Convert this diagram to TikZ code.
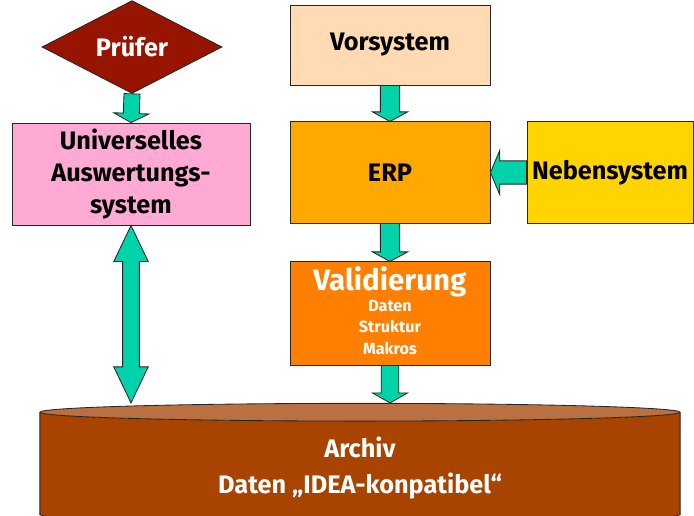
\documentclass[tikz,border=0pt]{standalone}
\usepackage{fontspec}
\setmainfont{Fira Sans}
\usepackage{tikz}
\usetikzlibrary{calc,shapes,shapes.geometric}
\definecolor{pruefred}{RGB}{150,20,0}
\definecolor{vorpeach}{RGB}{255,218,178}
\definecolor{erporange}{RGB}{255,168,0}
\definecolor{nebenyellow}{RGB}{255,212,0}
\definecolor{univpink}{RGB}{255,170,212}
\definecolor{validorange}{RGB}{255,127,0}
\definecolor{archivbody}{RGB}{168,68,0}
\definecolor{archivtop}{RGB}{186,112,64}
\definecolor{arrowgreen}{RGB}{0,210,170}
\newcommand{\smalltxt}{\fontsize{11.5}{15}\selectfont}
\tikzset{
    block/.style = {draw=black!85, line width=0.6pt, rectangle, inner sep=0pt,
        align=center, font=\bfseries\fontsize{18}{23}\selectfont},
    prism/.style = {draw=black!85, line width=0.6pt, diamond, inner sep=0pt,
        minimum width=4.5cm, minimum height=1.93cm, fill=pruefred, text=white,
        font=\bfseries\fontsize{18}{23}\selectfont},
    store/.style = {draw=black!85, line width=0.6pt, cylinder, shape border rotate=90,
        aspect=0.0625, minimum width=16cm, minimum height=3cm, inner sep=0pt,
        cylinder uses custom fill, cylinder body fill=archivbody,
        cylinder end fill=archivtop, text=white, align=center,
        font=\bfseries\fontsize{18}{25}\selectfont},
    fatarrow/.style = {draw=black!85, line width=0.6pt, fill=arrowgreen, line join=miter}
}
% block arrow: half shaft, half head, head length, from, to
\newcommand{\fatarrow}[5]{%
    \coordinate (hb) at ($(#5)!#3!(#4)$);
    \draw[fatarrow] ($(#4)!#1!90:(#5)$) -- ($(hb)!#1!90:(#5)$) -- ($(hb)!#2!90:(#5)$)
        -- (#5) -- ($(hb)!#2!-90:(#5)$) -- ($(hb)!#1!-90:(#5)$) -- ($(#4)!#1!-90:(#5)$) -- cycle;}
\newcommand{\dblarrow}[5]{%
    \coordinate (hba) at ($(#4)!#3!(#5)$);
    \coordinate (hbb) at ($(#5)!#3!(#4)$);
    \draw[fatarrow] (#4) -- ($(hba)!#2!90:(#5)$) -- ($(hba)!#1!90:(#5)$) -- ($(hbb)!#1!90:(#5)$)
        -- ($(hbb)!#2!90:(#5)$) -- (#5) -- ($(hbb)!#2!-90:(#5)$) -- ($(hbb)!#1!-90:(#5)$)
        -- ($(hba)!#1!-90:(#5)$) -- ($(hba)!#2!-90:(#5)$) -- cycle;}
\begin{document}
\begin{tikzpicture}[x=0.025cm, y=-0.025cm]
    \useasboundingbox (0,0) rectangle (694,515);
    \node[prism] (pruefer) at (132,47) {Prüfer};
    \node[block, fill=vorpeach, minimum width=5cm, minimum height=2cm] (vorsys) at (390,45) {Vorsystem};
    \node[block, fill=univpink, minimum width=5.95cm, minimum height=2.55cm] (univ) at (131,174) {Universelles\\Auswertungs-\\system};
    \node[block, fill=erporange, minimum width=5cm, minimum height=2.53cm] (erp) at (390,172.5) {ERP};
    \node[block, fill=nebenyellow, minimum width=4.15cm, minimum height=2.53cm] (nebensys) at (610,172.5) {Nebensystem};
    \node[block, fill=validorange, text=white, minimum width=5cm, minimum height=2.58cm] (valid) at (390,313.5)
        {\fontsize{21}{24}\selectfont Validierung\\[-1pt]
         {\smalltxt\begin{tabular}{@{}c@{}}Daten\\Struktur\\Makros\end{tabular}}};
    \node[store] (archiv) at (360,468) {Archiv\\Daten „IDEA-konpatibel“};
    \coordinate (univin) at (univ.south |- archiv.north);
    \coordinate (validin) at (valid.south |- archiv.north);
    \fatarrow{0.2cm}{0.44cm}{0.23cm}{pruefer.south}{univ.north}
    \fatarrow{0.24cm}{0.44cm}{0.24cm}{vorsys.south}{erp.north}
    \fatarrow{0.29cm}{0.55cm}{0.23cm}{nebensys.west}{erp.east}
    \fatarrow{0.24cm}{0.44cm}{0.24cm}{erp.south}{valid.north}
    \fatarrow{0.22cm}{0.44cm}{0.25cm}{valid.south}{validin}
    \dblarrow{0.21cm}{0.43cm}{0.9cm}{univ.south}{univin}
\end{tikzpicture}
\end{document}
